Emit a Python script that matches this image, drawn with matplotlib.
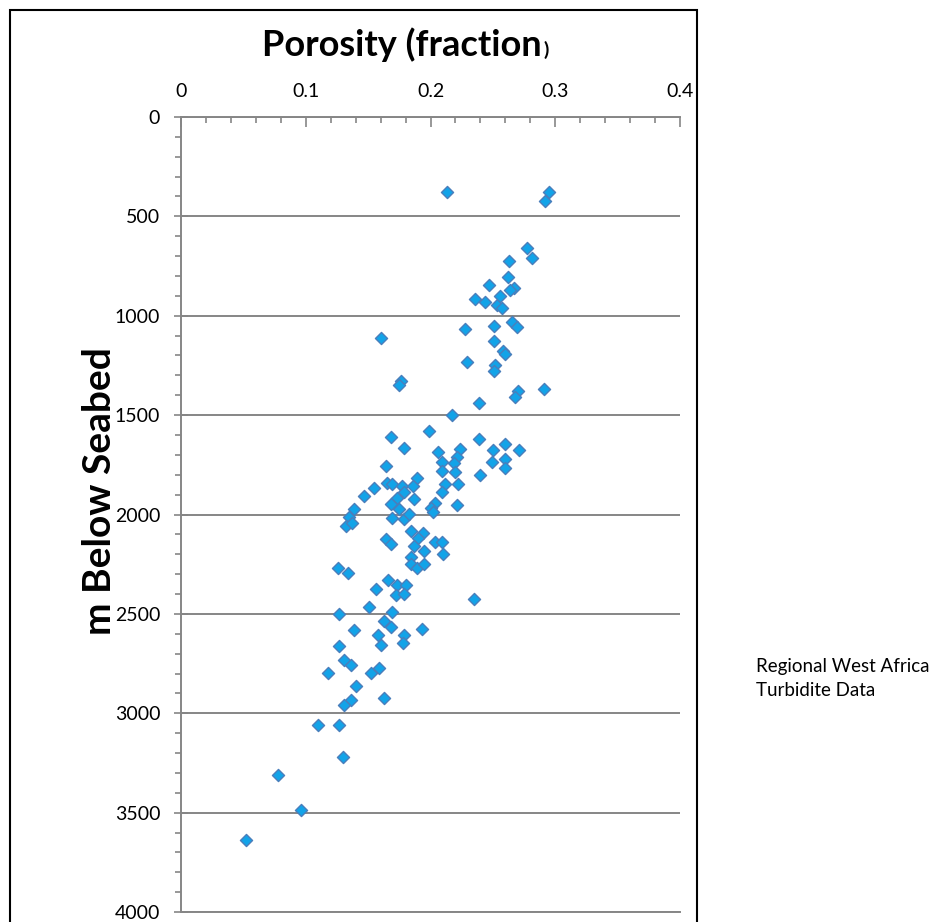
import matplotlib
matplotlib.use("Agg")
import matplotlib.pyplot as plt
from matplotlib.patches import Rectangle
from matplotlib.ticker import MultipleLocator

#%% Data (porosity fraction, metres below seabed)
porosity = [0.213, 0.295, 0.292, 0.277, 0.281, 0.263, 0.262, 0.247, 0.267, 0.264,
            0.236, 0.244, 0.253, 0.256, 0.257, 0.265, 0.269, 0.228, 0.251, 0.251, 0.16,
            0.258, 0.260, 0.229, 0.252, 0.251, 0.176, 0.175, 0.291, 0.270, 0.268,
            0.239, 0.217, 0.199, 0.168, 0.239, 0.260, 0.179, 0.250, 0.271, 0.206,
            0.224, 0.260, 0.249, 0.221, 0.209, 0.219, 0.164, 0.209, 0.220, 0.260,
            0.240, 0.189, 0.165, 0.169, 0.177, 0.186, 0.155, 0.212, 0.222, 0.179,
            0.173, 0.187, 0.147, 0.209, 0.168, 0.204, 0.200, 0.202, 0.221, 0.139,
            0.175, 0.135, 0.132, 0.137, 0.169, 0.179, 0.183, 0.184, 0.194, 0.190,
            0.164, 0.168, 0.204, 0.209, 0.187, 0.195, 0.210, 0.184, 0.184, 0.189,
            0.195, 0.126, 0.134, 0.166, 0.173, 0.180, 0.156, 0.172, 0.179, 0.235,
            0.151, 0.127, 0.169, 0.163, 0.168, 0.139, 0.193, 0.158, 0.160, 0.179,
            0.178, 0.127, 0.131, 0.136, 0.118, 0.152, 0.159, 0.140, 0.163, 0.136,
            0.131, 0.110, 0.127, 0.130, 0.078, 0.096, 0.052]
depth = [377, 377, 422, 658, 708, 723, 805, 845, 859, 868,
         915, 929, 944, 899, 960, 1030, 1055, 1065, 1050, 1125, 1110,
         1178, 1190, 1233, 1250, 1278, 1328, 1350, 1367, 1378, 1409,
         1437, 1499, 1579, 1608, 1618, 1646, 1666, 1675, 1675, 1688,
         1671, 1722, 1738, 1713, 1738, 1743, 1755, 1780, 1785, 1768,
         1800, 1818, 1839, 1847, 1855, 1855, 1869, 1847, 1847, 1889,
         1919, 1922, 1909, 1889, 1947, 1942, 1969, 1986, 1952, 1972,
         1972, 2014, 2056, 2043, 2018, 2023, 1998, 2081, 2093, 2120,
         2123, 2148, 2136, 2136, 2157, 2185, 2198, 2215, 2249, 2270,
         2249, 2270, 2295, 2332, 2354, 2354, 2377, 2404, 2399, 2427,
         2466, 2499, 2491, 2538, 2566, 2583, 2575, 2608, 2658, 2605,
         2647, 2663, 2734, 2755, 2797, 2797, 2772, 2862, 2923, 2934,
         2956, 3060, 3060, 3219, 3311, 3488, 3637]

x_ticks = [0, 0.1, 0.2, 0.3, 0.4]
x_labels = ['0', '0.1', '0.2', '0.3', '0.4']
y_ticks = [0, 500, 1000, 1500, 2000, 2500, 3000, 3500, 4000]
series_name = ['Regional West Africa', 'Turbidite Data']

#%% Plot features
plt.rcParams['font.family'] = ['Lato', 'DejaVu Sans']
axis_grey = '#868686'

W, H = 938, 922
fig = plt.figure(figsize=(W / 100, H / 100), dpi=100)
ax = fig.add_axes([181 / W, 1 - 912 / H, (680 - 181) / W, (912 - 117) / H])

ax.scatter(porosity, depth, marker='D', s=38, facecolor='#12A3E8',
           edgecolor='#4A7EBB', linewidth=1.0, zorder=3, clip_on=False)

ax.set_xlim(0, 0.4)
ax.set_ylim(4000, 0)
ax.set_xticks(x_ticks)
ax.set_xticklabels(x_labels)
ax.set_yticks(y_ticks)
ax.set_yticklabels([str(v) for v in y_ticks])
ax.xaxis.set_minor_locator(MultipleLocator(0.02))
ax.yaxis.set_minor_locator(MultipleLocator(100))
ax.xaxis.tick_top()

ax.grid(axis='y', color=axis_grey, linewidth=1.4)
for s in ['right', 'bottom']:
    ax.spines[s].set_visible(False)
for s in ['left', 'top']:
    ax.spines[s].set_color(axis_grey)
    ax.spines[s].set_linewidth(1.4)
ax.axhline(4000, color=axis_grey, linewidth=1.4, clip_on=False)

ax.tick_params(axis='x', which='major', direction='in', length=7, width=1.2,
               color=axis_grey, labelsize=14, pad=12)
ax.tick_params(axis='x', which='minor', direction='in', length=4, width=1.2,
               color=axis_grey)
ax.tick_params(axis='y', which='major', direction='inout', length=10, width=1.2,
               color=axis_grey, labelsize=14, pad=10)
ax.tick_params(axis='y', which='minor', direction='out', length=4, width=1.2,
               color=axis_grey)

# title: closing bracket is set smaller in the original
t = fig.text(262 / W, 1 - 56 / H, 'Porosity (fraction', fontsize=26,
             fontweight='bold', ha='left', va='baseline')
fig.canvas.draw()
bb = t.get_window_extent(renderer=fig.canvas.get_renderer())
fig.text(bb.x1 / W + 0.002, 1 - 56 / H, ')', fontsize=14, fontweight='bold',
         ha='left', va='baseline')

fig.text(117 / W, 1 - 491 / H, 'm Below Seabed', fontsize=28, fontweight='bold',
         rotation=90, ha='right', va='center')

fig.text(756 / W, 1 - 666 / H, series_name[0], fontsize=13.5, va='center', ha='left')
fig.text(756 / W, 1 - 690 / H, series_name[1], fontsize=13.5, va='center', ha='left')

# outer chart border
fig.patches.append(Rectangle((10 / W, -0.02), (697 - 10) / W, 1 - 10 / H + 0.02,
                             transform=fig.transFigure, fill=False,
                             edgecolor='black', linewidth=1.5))

plt.savefig('out.png', dpi=100)
plt.close(fig)
